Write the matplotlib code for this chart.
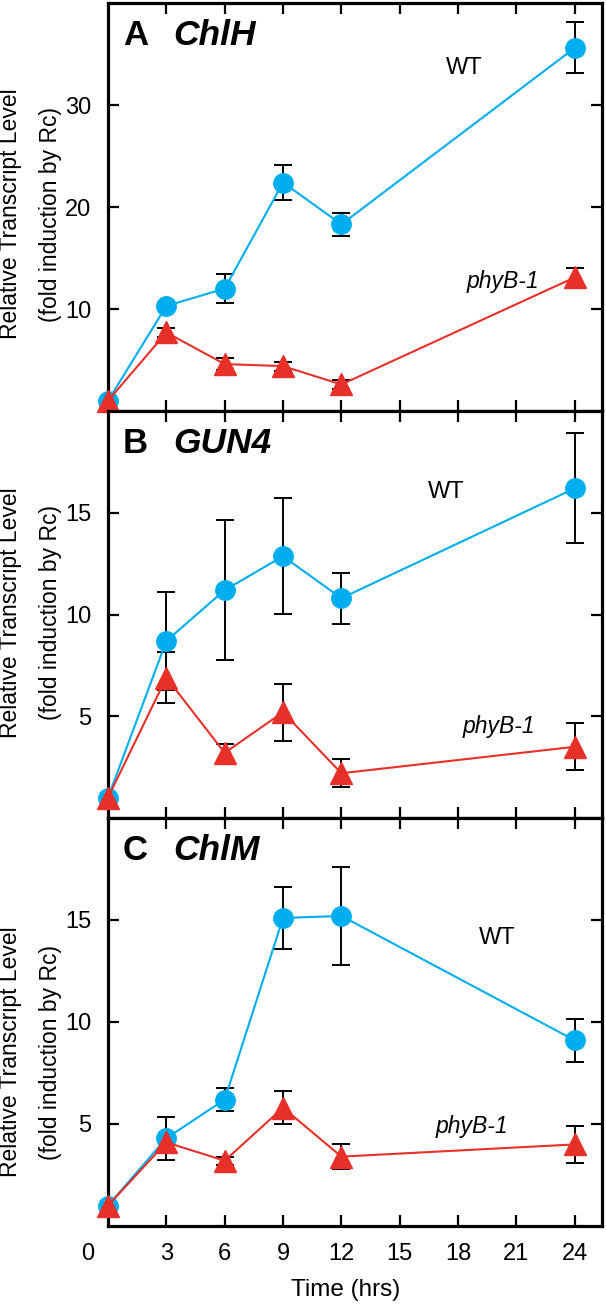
import matplotlib
matplotlib.use('Agg')
import matplotlib.pyplot as plt
from matplotlib.transforms import ScaledTranslation

plt.rcParams['font.family'] = ['Liberation Sans', 'DejaVu Sans']

# time points (hrs)
times = [0, 3, 6, 9, 12, 24]

# A  ChlH
wt_chlh = [1.0, 10.3, 12.0, 22.4, 18.3, 35.6]
wt_chlh_err = [0.2, 0.3, 1.4, 1.75, 1.1, 2.5]
phy_chlh = [1.0, 7.7, 4.6, 4.4, 2.6, 13.1]
phy_chlh_err = [0.1, 0.4, 0.55, 0.45, 0.4, 0.9]

# B  GUN4
wt_gun4 = [1.0, 8.7, 11.2, 12.86, 10.8, 16.2]
wt_gun4_err = [0.1, 2.4, 3.45, 2.85, 1.25, 2.7]
phy_gun4 = [1.0, 6.9, 3.2, 5.2, 2.2, 3.5]
phy_gun4_err = [0.1, 1.25, 0.45, 1.4, 0.7, 1.15]

# C  ChlM
wt_chlm = [1.0, 4.3, 6.2, 15.1, 15.2, 9.1]
wt_chlm_err = [0.1, 1.05, 0.55, 1.5, 2.4, 1.05]
phy_chlm = [1.0, 4.1, 3.2, 5.8, 3.4, 4.0]
phy_chlm_err = [0.1, 0.3, 0.2, 0.8, 0.6, 0.9]

letters = ['A', 'B', 'C']
genes = ['ChlH', 'GUN4', 'ChlM']
y_max = [40, 20, 20]
y_ticks = [[10, 20, 30], [5, 10, 15], [5, 10, 15]]
x_ticks = [0, 3, 6, 9, 12, 15, 18, 21, 24]

blue = '#00AEEF'
red = '#E8302A'

W, H = 606, 1305
fig = plt.figure(figsize=(W / 100, H / 100), dpi=100)

# panel edges in pixels (top, bottom)
edges = [(3, 411), (411, 818), (818, 1226)]
label_pos = [((18.3, 33.6), (20.3, 12.7)),
             ((17.4, 16.0), (20.1, 4.5)),
             ((20.0, 14.1), (18.7, 4.9))]
ylabel_center = [214, 613, 1052]

series = [(wt_chlh, wt_chlh_err, phy_chlh, phy_chlh_err),
          (wt_gun4, wt_gun4_err, phy_gun4, phy_gun4_err),
          (wt_chlm, wt_chlm_err, phy_chlm, phy_chlm_err)]

for i, (wt, wt_err, phy, phy_err) in enumerate(series):
    top, bot = edges[i]
    ax = fig.add_axes([108 / W, 1 - bot / H, (602 - 108) / W, (bot - top) / H])

    ax.errorbar(times, wt, yerr=wt_err, fmt='none', ecolor='black',
                elinewidth=1.4, capsize=6.5, capthick=1.4, zorder=2, clip_on=False)
    ax.errorbar(times, phy, yerr=phy_err, fmt='none', ecolor='black',
                elinewidth=1.4, capsize=6.5, capthick=1.4, zorder=2, clip_on=False)
    ax.plot(times, wt, color=blue, lw=1.5, marker='o', ms=14, mec=blue,
            zorder=3, clip_on=False)
    ax.plot(times, phy, color=red, lw=1.5, marker='^', ms=16, mec=red,
            zorder=4, clip_on=False)

    ax.set_xlim(0, 25.4)
    ax.set_ylim(0, y_max[i])
    ax.set_yticks(y_ticks[i])
    ax.set_xticks(x_ticks)

    for s in ax.spines.values():
        s.set_linewidth(2.3)
    ax.tick_params(direction='in', length=8, width=1.6, top=True, right=True,
                   labelsize=17, pad=12)

    ticks = ax.xaxis.get_major_ticks()
    ticks[0].tick1line.set_visible(False)
    ticks[0].tick2line.set_visible(False)
    if i < 2:
        ax.tick_params(labelbottom=False)
    else:
        lab = ticks[0].label1
        lab.set_transform(lab.get_transform() + ScaledTranslation(-0.2, 0, fig.dpi_scale_trans))

    # panel title
    ax.text(0.030, 0.897, letters[i], transform=ax.transAxes, fontsize=25,
            fontweight='bold', va='baseline')
    ax.text(0.132, 0.897, genes[i], transform=ax.transAxes, fontsize=25.5,
            fontweight='bold', style='italic', va='baseline')

    # series labels
    (wx, wy), (px_, py_) = label_pos[i]
    ax.text(wx, wy, 'WT', fontsize=17, ha='center', va='center')
    ax.text(px_, py_, 'phyB-1', fontsize=16.5, style='italic', ha='center', va='center')

    # y label, two lines
    yc = 1 - ylabel_center[i] / H
    fig.text(11 / W, yc, 'Relative Transcript Level', rotation=90, fontsize=16.5,
             ha='center', va='center')
    fig.text(51 / W, yc, '(fold induction by Rc)', rotation=90, fontsize=16.5,
             ha='center', va='center')

fig.text(346 / W, 1 - 1290 / H, 'Time (hrs)', fontsize=17.5, ha='center', va='center')

fig.savefig('out.png', dpi=100)
